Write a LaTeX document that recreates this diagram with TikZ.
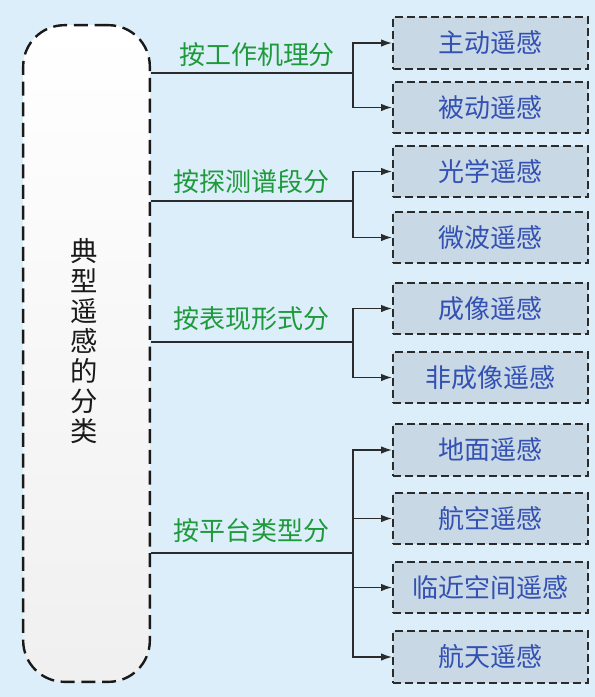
\documentclass[tikz,border=0pt]{standalone}
\usepackage{fontspec}
\setmainfont{Noto Sans CJK SC}
\usetikzlibrary{positioning,calc,arrows.meta}
\definecolor{bgblue}{HTML}{DCEEF9}
\definecolor{leaffill}{HTML}{C8D8E4}
\definecolor{leaftext}{HTML}{3350B3}
\definecolor{catgreen}{HTML}{1E9A3C}
\definecolor{linegray}{HTML}{2B2B2B}

\begin{document}
\begin{tikzpicture}[x=0.75pt,y=-0.75pt,
  rootbox/.style={draw=black!90,line width=1.8pt,dash pattern=on 10.5pt off 5pt,
    rounded corners=31pt,top color=white,bottom color=black!6,
    minimum width=95pt,minimum height=492.5pt,inner sep=0pt},
  rootlabel/.style={align=center,font=\fontsize{20.5}{22.5}\selectfont,text=black!90},
  leaf/.style={draw=linegray,line width=1.4pt,dash pattern=on 6pt off 3pt,fill=leaffill,
    minimum width=146.5pt,minimum height=38.5pt,inner sep=0pt,
    font=\fontsize{19.5}{23}\selectfont,text=leaftext},
  cat/.style={font=\fontsize{19.5}{23}\selectfont,text=catgreen,inner sep=0pt},
  branch/.style={draw=linegray,line width=0.9pt},
  arrow/.style={branch,-{Latex[length=8pt,width=5.5pt]}}]
  \fill[bgblue] (0,0) rectangle (595,697);
  \useasboundingbox (0,0) rectangle (595,697);

  \node[rootbox] (root) at (86.5,353.5) {};
  \node[rootlabel] (title) at (84,341) {典\\型\\遥\\感\\的\\分\\类};

  \coordinate (j1) at (353,73);
  \coordinate (j2) at (353,201);
  \coordinate (j3) at (353,342);
  \coordinate (j4) at (353,553);

  \node[cat] (c1) at (257,55) {按工作机理分};
  \node[cat] (c2) at (251,182) {按探测谱段分};
  \node[cat] (c3) at (251,319) {按表现形式分};
  \node[cat] (c4) at (251,531) {按平台类型分};

  \node[leaf] (a1) at (490.5,43) {主动遥感};
  \node[leaf] (a2) at (490.5,107.5) {被动遥感};
  \node[leaf] (b1) at (490.5,171.5) {光学遥感};
  \node[leaf] (b2) at (490.5,237.5) {微波遥感};
  \node[leaf] (e1) at (490.5,308.5) {成像遥感};
  \node[leaf] (e2) at (490.5,377.5) {非成像遥感};
  \node[leaf] (d1) at (490.5,450) {地面遥感};
  \node[leaf] (d2) at (490.5,518.5) {航空遥感};
  \node[leaf] (d3) at (490.5,587.5) {临近空间遥感};
  \node[leaf] (d4) at (490.5,657) {航天遥感};

  \draw[branch] (root.east |- j1) -- (j1);
  \draw[branch] (root.east |- j2) -- (j2);
  \draw[branch] (root.east |- j3) -- (j3);
  \draw[branch] (root.east |- j4) -- (j4);

  \draw[arrow] (j1) |- (a1);
  \draw[arrow] (j1) |- (a2);
  \draw[arrow] (j2) |- (b1);
  \draw[arrow] (j2) |- (b2);
  \draw[arrow] (j3) |- (e1);
  \draw[arrow] (j3) |- (e2);
  \draw[arrow] (j4) |- (d1);
  \draw[arrow] (j4) |- (d2);
  \draw[arrow] (j4) |- (d3);
  \draw[arrow] (j4) |- (d4);
\end{tikzpicture}
\end{document}
